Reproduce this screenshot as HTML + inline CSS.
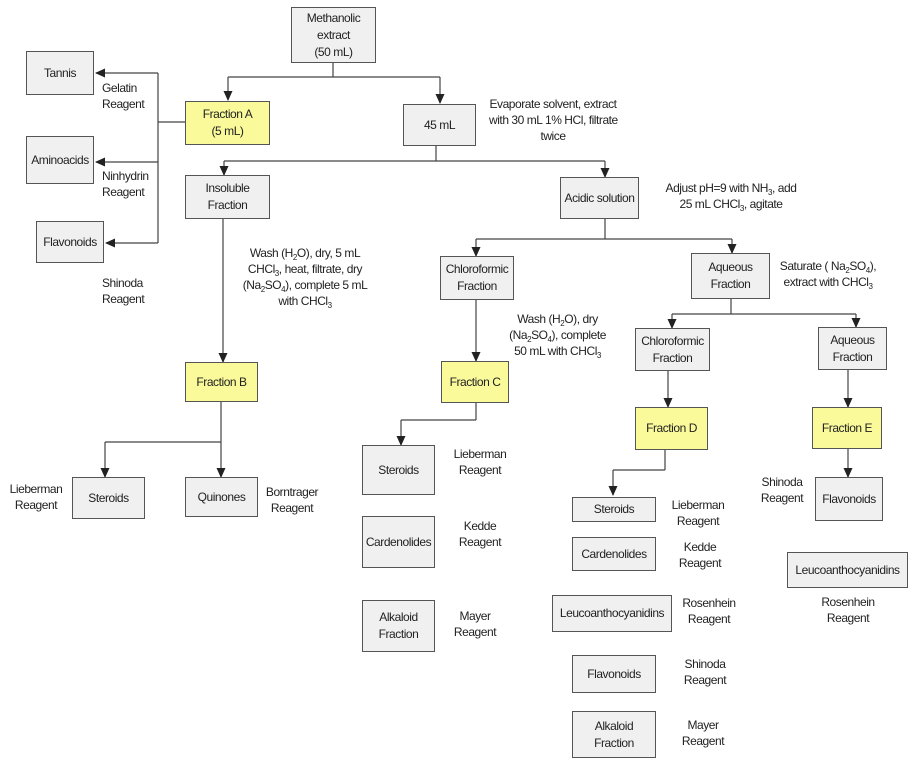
<!DOCTYPE html>
<html><head><meta charset="utf-8"><style>
body{margin:0;width:920px;height:767px;background:#fff;position:relative;overflow:hidden;font-family:"Liberation Sans",sans-serif;color:#222;font-size:12px;letter-spacing:-0.45px;}
.b{position:absolute;box-sizing:border-box;border:1.5px solid #555;background:#f0f0f0;display:flex;align-items:center;justify-content:center;text-align:center;line-height:17px;white-space:nowrap;}
.y{background:#fafa9a;}
.t{position:absolute;text-align:center;line-height:16px;white-space:nowrap;}
sub{font-size:8px;vertical-align:-3px;line-height:0;}
svg{position:absolute;left:0;top:0;}
</style></head><body>
<svg width="920" height="767">
<defs><marker id="a" markerWidth="10" markerHeight="12" refX="9" refY="5" orient="auto" markerUnits="userSpaceOnUse"><path d="M0,0.5 L10,5 L0,9.5 Z" fill="#222"/></marker></defs>
<g stroke="#444" stroke-width="1.2" fill="none">
<path d="M333,63V77M228,77H440"/>
<path d="M228,77V100" marker-end="url(#a)"/><path d="M440,77V103" marker-end="url(#a)"/>
<path d="M185,122H158M158,73V243"/>
<path d="M158,73H96" marker-end="url(#a)"/><path d="M158,162H96" marker-end="url(#a)"/><path d="M158,243H106" marker-end="url(#a)"/>
<path d="M436,146V161M224,161H605"/>
<path d="M224,161V175" marker-end="url(#a)"/><path d="M605,161V177" marker-end="url(#a)"/>
<path d="M223,219V362" marker-end="url(#a)"/>
<path d="M605,219V239M476,239H732"/>
<path d="M476,239V256" marker-end="url(#a)"/><path d="M732,239V253" marker-end="url(#a)"/>
<path d="M476,300V361" marker-end="url(#a)"/>
<path d="M731,299V314M672,314H856"/>
<path d="M672,314V328" marker-end="url(#a)"/><path d="M856,314V327" marker-end="url(#a)"/>
<path d="M668,371V407" marker-end="url(#a)"/><path d="M848,370V407" marker-end="url(#a)"/>
<path d="M221,402V442M105,442H221"/>
<path d="M105,442V477" marker-end="url(#a)"/><path d="M221,442V477" marker-end="url(#a)"/>
<path d="M476,403V420M401,420H476"/><path d="M401,420V445" marker-end="url(#a)"/>
<path d="M665,450V470M613,470H665"/><path d="M613,470V495" marker-end="url(#a)"/>
<path d="M848,449V477" marker-end="url(#a)"/>
</g></svg>

<div class="b" style="left:291px;top:7px;width:85px;height:56px">Methanolic<br>extract<br>(50 mL)</div>
<div class="b" style="left:26px;top:51px;width:68px;height:44px">Tannis</div>
<div class="b" style="left:26px;top:136px;width:68px;height:48px">Aminoacids</div>
<div class="b" style="left:36px;top:221px;width:68px;height:42px">Flavonoids</div>
<div class="b y" style="left:185px;top:101px;width:85px;height:44px">Fraction A<br>(5 mL)</div>
<div class="b" style="left:403px;top:104px;width:73px;height:42px">45 mL</div>
<div class="b" style="left:185px;top:175px;width:85px;height:44px">Insoluble<br>Fraction</div>
<div class="b" style="left:560px;top:177px;width:79px;height:42px">Acidic solution</div>
<div class="b" style="left:440px;top:256px;width:74px;height:44px">Chloroformic<br>Fraction</div>
<div class="b" style="left:691px;top:253px;width:79px;height:46px">Aqueous<br>Fraction</div>
<div class="b" style="left:635px;top:328px;width:75px;height:43px">Chloroformic<br>Fraction</div>
<div class="b" style="left:818px;top:327px;width:69px;height:43px">Aqueous<br>Fraction</div>
<div class="b y" style="left:185px;top:362px;width:73px;height:40px">Fraction B</div>
<div class="b y" style="left:441px;top:361px;width:68px;height:42px">Fraction C</div>
<div class="b y" style="left:635px;top:407px;width:73px;height:43px">Fraction D</div>
<div class="b y" style="left:812px;top:407px;width:70px;height:42px">Fraction E</div>
<div class="b" style="left:72px;top:477px;width:73px;height:42px">Steroids</div>
<div class="b" style="left:185px;top:477px;width:73px;height:40px">Quinones</div>
<div class="b" style="left:362px;top:445px;width:73px;height:50px">Steroids</div>
<div class="b" style="left:362px;top:516px;width:73px;height:52px">Cardenolides</div>
<div class="b" style="left:362px;top:600px;width:73px;height:52px">Alkaloid<br>Fraction</div>
<div class="b" style="left:572px;top:497px;width:84px;height:25px">Steroids</div>
<div class="b" style="left:572px;top:537px;width:84px;height:34px">Cardenolides</div>
<div class="b" style="left:552px;top:595px;width:120px;height:37px">Leucoanthocyanidins</div>
<div class="b" style="left:572px;top:655px;width:84px;height:38px">Flavonoids</div>
<div class="b" style="left:572px;top:711px;width:84px;height:47px">Alkaloid<br>Fraction</div>
<div class="b" style="left:815px;top:477px;width:68px;height:44px">Flavonoids</div>
<div class="b" style="left:787px;top:552px;width:121px;height:36px">Leucoanthocyanidins</div>

<div class="t" style="left:102px;top:80px;text-align:left">Gelatin<br>Reagent</div>
<div class="t" style="left:102px;top:168px;text-align:left">Ninhydrin<br>Reagent</div>
<div class="t" style="left:102px;top:275px;text-align:left">Shinoda<br>Reagent</div>
<div class="t" style="left:489px;top:96px;width:128px">Evaporate solvent, extract<br>with 30 mL 1% HCl, filtrate<br>twice</div>
<div class="t" style="left:659px;top:180px;width:144px">Adjust pH=9 with NH<sub>3</sub>, add<br>25 mL CHCl<sub>3</sub>, agitate</div>
<div class="t" style="left:240px;top:245px;width:130px">Wash (H<sub>2</sub>O), dry, 5 mL<br>CHCl<sub>3</sub>, heat, filtrate, dry<br>(Na<sub>2</sub>SO<sub>4</sub>), complete 5 mL<br>with CHCl<sub>3</sub></div>
<div class="t" style="left:505px;top:311px;width:105px">Wash (H<sub>2</sub>O), dry<br>(Na<sub>2</sub>SO<sub>4</sub>), complete<br>50 mL with CHCl<sub>3</sub></div>
<div class="t" style="left:776px;top:258px;width:104px">Saturate ( Na<sub>2</sub>SO<sub>4</sub>),<br>extract with CHCl<sub>3</sub></div>
<div class="t" style="left:6px;top:481px;width:60px">Lieberman<br>Reagent</div>
<div class="t" style="left:262px;top:484px;width:60px">Borntrager<br>Reagent</div>
<div class="t" style="left:450px;top:446px;width:60px">Lieberman<br>Reagent</div>
<div class="t" style="left:450px;top:518px;width:60px">Kedde<br>Reagent</div>
<div class="t" style="left:445px;top:608px;width:60px">Mayer<br>Reagent</div>
<div class="t" style="left:668px;top:497px;width:60px">Lieberman<br>Reagent</div>
<div class="t" style="left:670px;top:539px;width:60px">Kedde<br>Reagent</div>
<div class="t" style="left:679px;top:595px;width:60px">Rosenhein<br>Reagent</div>
<div class="t" style="left:675px;top:656px;width:60px">Shinoda<br>Reagent</div>
<div class="t" style="left:673px;top:717px;width:60px">Mayer<br>Reagent</div>
<div class="t" style="left:752px;top:474px;width:60px">Shinoda<br>Reagent</div>
<div class="t" style="left:818px;top:594px;width:60px">Rosenhein<br>Reagent</div>
</body></html>
